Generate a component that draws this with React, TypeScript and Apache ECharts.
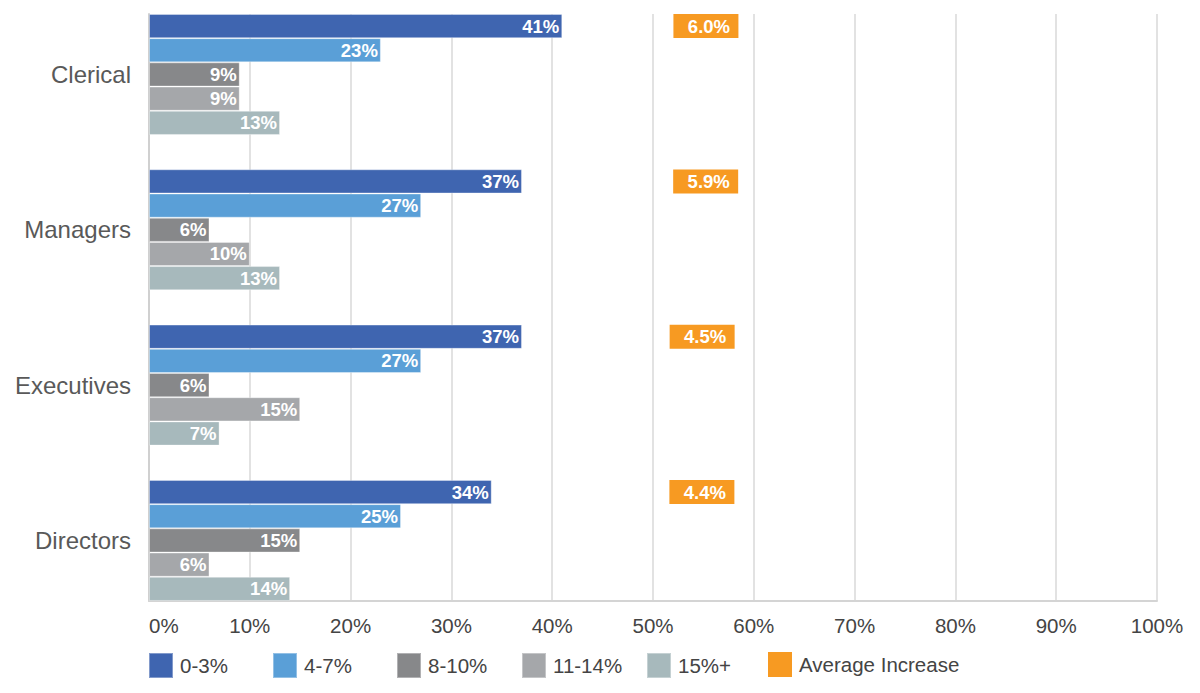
import React, { useEffect, useRef } from "react";
import * as echarts from "echarts";

// Employee groups, top to bottom
const categories = ["Clerical", "Managers", "Executives", "Directors"];

// Share of employees by size of increase (%)
const band0to3 = [41, 37, 37, 34];
const band4to7 = [23, 27, 27, 25];
const band8to10 = [9, 6, 6, 15];
const band11to14 = [9, 10, 15, 6];
const band15plus = [13, 13, 7, 14];

// Average increase per group (%)
const averageIncrease = [6.0, 5.9, 4.5, 4.4];

const seriesNames = ["0-3%", "4-7%", "8-10%", "11-14%", "15%+"];
const seriesValues = [band0to3, band4to7, band8to10, band11to14, band15plus];
const seriesColors = ["#3f65b0", "#5a9fd7", "#87888a", "#a5a7aa", "#a7b9bc"];
const avgName = "Average Increase";
const avgColor = "#f79a22";

const xTicks = { min: 0, max: 100, interval: 10 };

const FONT = "'Liberation Sans', Arial, Helvetica, sans-serif";

// left edge of each legend entry
const legendLefts = [148, 272, 396, 521, 646, 768];

export default function App() {
  const ref = useRef<HTMLDivElement>(null);

  useEffect(() => {
    if (!ref.current) return;
    const chart = echarts.init(ref.current, undefined, { renderer: "svg" });

    const barWidthPx = 24.2;

    const barSeries = seriesNames.map((name, i) => ({
      name,
      type: "bar",
      xAxisIndex: 1,
      yAxisIndex: 1,
      data: seriesValues[i],
      barWidth: barWidthPx,
      barGap: "0%",
      itemStyle: {
        color: seriesColors[i],
        borderColor: "rgba(255,255,255,0.35)",
        borderWidth: 1,
      },
      label: {
        show: true,
        position: "insideRight",
        distance: 3,
        color: "#ffffff",
        fontFamily: FONT,
        fontWeight: "bold",
        fontSize: 18.5,
        formatter: (p: any) => `${p.value}%`,
      },
    }));

    const avgSeries = {
      name: avgName,
      type: "scatter",
      xAxisIndex: 2,
      yAxisIndex: 1,
      data: averageIncrease.map((v, i) => [v, categories[i]]),
      symbol: "rect",
      symbolSize: [65, 24],
      symbolOffset: [0, -2 * barWidthPx],
      itemStyle: { color: avgColor, opacity: 1 },
      label: {
        show: true,
        position: "inside",
        offset: [3, 0],
        color: "#ffffff",
        fontFamily: FONT,
        fontWeight: "bold",
        fontSize: 18.5,
        formatter: (p: any) => `${p.value[0].toFixed(1)}%`,
      },
      z: 5,
    };

    const legendNames = [...seriesNames, avgName];
    const legends = legendNames.map((name, i) => ({
      left: legendLefts[i],
      top: 652,
      padding: 0,
      itemWidth: 24,
      itemHeight: 25,
      icon: "rect",
      data: [name],
      textStyle: {
        fontSize: 20.5,
        color: "#444444",
        fontFamily: FONT,
        padding: [0, 0, 0, 2],
      },
      selectedMode: false,
    }));

    chart.setOption({
      animation: false,
      backgroundColor: "#ffffff",
      textStyle: { fontFamily: FONT },
      grid: [
        // frame: gridlines and percentage axis
        {
          left: 149,
          top: 14,
          width: 1008,
          height: 587,
          containLabel: false,
          outerBoundsMode: "none",
        },
        // bars
        {
          left: 149,
          top: -3.2,
          width: 1008,
          height: 621.3,
          containLabel: false,
          outerBoundsMode: "none",
        },
      ],
      xAxis: [
        {
          type: "value",
          gridIndex: 0,
          min: xTicks.min,
          max: xTicks.max,
          interval: xTicks.interval,
          axisLine: { show: true, lineStyle: { color: "#d4d4d4", width: 2 } },
          axisTick: { show: false },
          axisLabel: {
            margin: 14,
            fontSize: 20.5,
            color: "#444444",
            fontFamily: FONT,
            formatter: "{value}%",
            alignMinLabel: "left",
          },
          splitLine: { show: true, lineStyle: { color: "#d9d9d9", width: 1.5 } },
        },
        {
          type: "value",
          gridIndex: 1,
          min: xTicks.min,
          max: xTicks.max,
          show: false,
        },
        {
          type: "value",
          gridIndex: 1,
          min: -215,
          max: 185,
          show: false,
        },
      ],
      yAxis: [
        {
          type: "value",
          gridIndex: 0,
          min: 0,
          max: 1,
          axisLine: { show: true, lineStyle: { color: "#d0d0d0", width: 2 } },
          axisTick: { show: false },
          axisLabel: { show: false },
          splitLine: { show: false },
        },
        {
          type: "category",
          gridIndex: 1,
          inverse: true,
          data: categories,
          axisLine: { show: false },
          axisTick: { show: false },
          axisLabel: {
            margin: 18,
            fontSize: 24,
            color: "#595959",
            fontFamily: FONT,
          },
          splitLine: { show: false },
        },
      ],
      legend: legends,
      series: [...barSeries, avgSeries],
    });

    return () => chart.dispose();
  }, []);

  return (
    <div
      ref={ref}
      style={{ position: "fixed", left: 0, top: 0, width: 1200, height: 693 }}
    />
  );
}
